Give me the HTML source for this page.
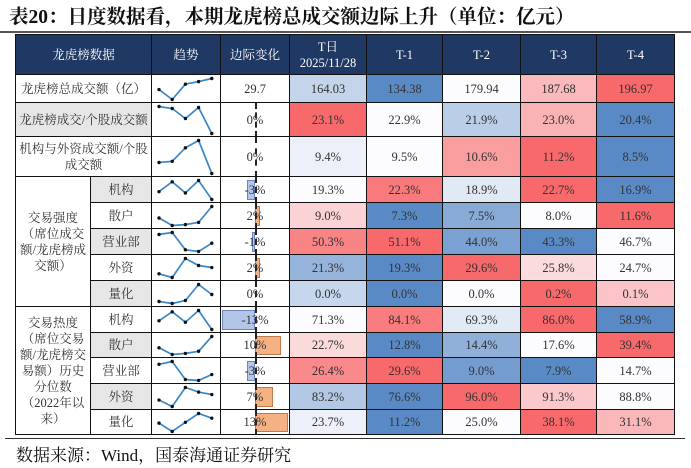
<!DOCTYPE html>
<html><head><meta charset="utf-8">
<style>
body{margin:0;width:691px;height:468px;background:#fff;position:relative;overflow:hidden;font-family:"Liberation Serif","Noto Serif CJK SC",serif;}
.c{position:absolute;box-sizing:border-box;border:1px solid #111;display:flex;align-items:center;justify-content:center;text-align:center;font-size:12.5px;color:#333;line-height:16px;margin-left:-1px;margin-top:-1px;}
.h{background:#1f3864;color:#fff;border-color:#111;}
</style></head><body>
<div style="position:absolute;left:9px;top:1px;font-size:19.5px;font-weight:bold;color:#111;font-family:'Liberation Serif','Noto Serif CJK SC',serif;white-space:nowrap;">表20：日度数据看，本期龙虎榜总成交额边际上升（单位：亿元）</div>
<div style="position:absolute;left:0;top:31px;width:691px;height:2px;background:#555;"></div>
<div id="tbl"></div>
<div style="position:absolute;left:5px;top:438px;width:680px;height:1px;background:#333;"></div>
<div style="position:absolute;left:16px;top:441px;font-size:17px;color:#111;white-space:nowrap;">数据来源：Wind，国泰海通证券研究</div>
<script>
const headers = ["龙虎榜数据","趋势","边际变化","T日<br>2025/11/28","T-1","T-2","T-3","T-4"];
const rowLabels = ["龙虎榜总成交额（亿）","龙虎榜成交/个股成交额","机构与外资成交额/个股成交额","机构","散户","营业部","外资","量化","机构","散户","营业部","外资","量化"];
const groupLabels = ["交易强度（席位成交额/龙虎榜成交额）","交易热度（席位交易额/龙虎榜交易额）历史分位数（2022年以来）"];
const tVals  = [164.03,23.1,9.4,19.3,9.0,50.3,21.3,0.03,71.3,22.7,26.4,83.2,23.7];
const t1Vals = [134.38,22.9,9.5,22.3,7.3,51.1,19.3,0.01,84.1,12.8,29.6,76.6,11.2];
const t2Vals = [179.94,21.9,10.6,18.9,7.5,44.0,29.6,0.04,69.3,14.4,9.0,96.0,25.0];
const t3Vals = [187.68,23.0,11.2,22.7,8.0,43.3,25.8,0.2,86.0,17.6,7.9,91.3,38.1];
const t4Vals = [196.97,20.4,8.5,16.9,11.6,46.7,24.7,0.1,58.9,39.4,14.7,88.8,31.1];
const marginal = [29.7,0,0,-3,2,-1,2,0,-13,10,-3,7,13];

const colX=[16,91,152,221,290,367,443,521,597,675];
const rowY=[35,75,103,137,177,203,229,255,281,307,333,358,384,410,435];
const tbl=document.getElementById('tbl');
function cell(x,y,w,h,html,cls,bg,name){
  const d=document.createElement('div');
  d.className='c '+(cls||'');
  d.style.left=x+'px';d.style.top=y+'px';d.style.width=(w+1)+'px';d.style.height=(h+1)+'px';
  if(bg)d.style.background=bg;
  d.innerHTML=html;
  
  
  tbl.appendChild(d);return d;
}
const hx=[16,152,221,290,367,443,521,597,675];
for(let i=0;i<8;i++){
  cell(hx[i],rowY[0],hx[i+1]-hx[i],rowY[1]-rowY[0],headers[i],'h',null,'header-cell');
}
const grayRows=[1,3,5,7,9,11];
function lerp(a,b,t){return a.map((v,i)=>Math.round(v+(b[i]-v)*t));}
function colorFor(v,arr){
  const s=[...arr].sort((a,b)=>a-b);const mn=s[0],md=s[2],mx=s[4];
  const blue=[90,138,198],white=[252,252,255],red=[248,105,107];
  let c;
  if(v<=md){c=lerp(blue,white,md===mn?1:(v-mn)/(md-mn));}
  else{c=lerp(white,red,(v-md)/(mx-md));}
  return 'rgb('+c.join(',')+')';
}
const NS='http://www.w3.org/2000/svg';
for(let r=0;r<13;r++){
  const y0=rowY[r+1],y1=rowY[r+2],h=y1-y0;
  const gbg=grayRows.includes(r)?'#e7e6e6':'#fff';
  if(r<3){cell(16,y0,152-16,h,rowLabels[r],'',gbg,'row-label');}
  else{cell(91,y0,152-91,h,rowLabels[r],'',gbg,'row-label');}
  const vals=[tVals[r],t1Vals[r],t2Vals[r],t3Vals[r],t4Vals[r]];
  const sc=cell(152,y0,221-152,h,'','', '#fff','trend-cell');
  const svg=document.createElementNS(NS,'svg');
  svg.setAttribute('width',221-152);svg.setAttribute('height',h);
  svg.style.position='absolute';svg.style.left='0';svg.style.top='0';
  
  
  const mn=Math.min(...vals),mx=Math.max(...vals);
  const xs=i=>7+i*13.2, ys=v=>h-3.5-(mx===mn?0.5:(v-mn)/(mx-mn))*(h-7);
  const pts=vals.map((v,i)=>xs(i).toFixed(1)+','+ys(v).toFixed(1)).join(' ');
  const pl=document.createElementNS(NS,'polyline');
  pl.setAttribute('points',pts);pl.setAttribute('fill','none');pl.setAttribute('stroke','#3a87c8');pl.setAttribute('stroke-width','1.7');
  
  
  svg.appendChild(pl);
  vals.forEach((v,i)=>{const c=document.createElementNS(NS,'circle');c.setAttribute('cx',xs(i));c.setAttribute('cy',ys(v));c.setAttribute('r','1.7');c.setAttribute('fill','#111');
    
    
    svg.appendChild(c);});
  sc.appendChild(svg);
  const mc=cell(221,y0,290-221,h,'','', '#fff','marginal-change-cell');
  if(r===0){mc.innerHTML=marginal[r].toFixed(1);}
  else{
    const axis=255-221, k=2.55, v=marginal[r];
    const bar=document.createElement('div');
    
    
    const w=Math.abs(v)*k;
    bar.style.cssText='position:absolute;top:3px;height:'+(h-6)+'px;box-sizing:border-box;width:'+Math.max(w,1.5)+'px;left:'+(v<0?axis-w:axis)+'px;'+
      (v<0?'background:#b4c6e7;border:1px solid #6f86b8;':(v>0?'background:#f4b183;border:1px solid #c07a4a;':'background:#fff;'));
    mc.appendChild(bar);
    const ax=document.createElement('div');
    
    
    ax.style.cssText='position:absolute;left:'+axis+'px;top:0;height:'+h+'px;border-left:2px dashed #222;';
    mc.appendChild(ax);
    const t=document.createElement('span');t.style.position='relative';t.textContent=v+'%';
    
    
    mc.appendChild(t);
  }
  for(let j=0;j<5;j++){
    const v=vals[j];
    const txt=r===0?v.toFixed(2):v.toFixed(1)+'%';
    cell(colX[4+j],y0,colX[5+j]-colX[4+j],h,txt,'',colorFor(v,vals),'value-cell');
  }
}
cell(16,rowY[4],91-16,rowY[9]-rowY[4],'交易强度<br>（席位成交<br>额/龙虎榜成<br>交额）','', '#fff','group-label-intensity');
cell(16,rowY[9],91-16,rowY[14]-rowY[9],'交易热度<br>（席位交易<br>额/龙虎榜交<br>易额）历史<br>分位数<br>（2022年以<br>来）','', '#fff','group-label-heat');
</script>
</body></html>
